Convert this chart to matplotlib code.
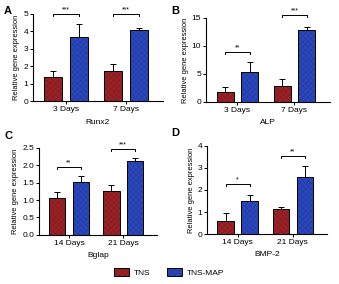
import numpy as np
import matplotlib.pyplot as plt
from matplotlib.patches import Patch
from matplotlib.legend_handler import HandlerTuple

plt.rcParams['font.family'] = ['Liberation Sans', 'DejaVu Sans']
plt.rcParams['hatch.linewidth'] = 0.35

# data
groups_ad = ['3 Days', '7 Days']
groups_cd = ['14 Days', '21 Days']

runx2_tns = [1.37, 1.72]
runx2_tns_err = [0.35, 0.43]
runx2_map = [3.68, 4.05]
runx2_map_err = [0.75, 0.15]

alp_tns = [1.7, 2.8]
alp_tns_err = [1.0, 1.3]
alp_map = [5.3, 12.8]
alp_map_err = [1.9, 0.6]

bglap_tns = [1.07, 1.27]
bglap_tns_err = [0.15, 0.16]
bglap_map = [1.53, 2.12]
bglap_map_err = [0.17, 0.10]

bmp2_tns = [0.6, 1.12]
bmp2_tns_err = [0.35, 0.1]
bmp2_map = [1.48, 2.6]
bmp2_map_err = [0.28, 0.5]

runx2_sig = [('***', 5.0), ('***', 5.0)]
alp_sig = [('**', 9.0), ('***', 15.5)]
bglap_sig = [('**', 1.95), ('***', 2.47)]
bmp2_sig = [('*', 2.26), ('**', 3.55)]

red = '#9a2226'
blue = '#2a48ba'
red_h = '#7c191d'
blue_h = '#1f379c'


def panel(ax, groups, tns, tns_err, tmap, tmap_err, sig, ymax, yticks, ytl, gene):
    x = np.arange(len(groups))
    off = 0.217
    w = 0.3
    # hatch texture drawn in a darker shade, black outline on top
    ax.bar(x - off, tns, w, color=red, edgecolor=red_h, linewidth=0,
           hatch='xxxxxx', zorder=2)
    ax.bar(x + off, tmap, w, color=blue, edgecolor=blue_h, linewidth=0,
           hatch='xxxxxx', zorder=2)
    ax.bar(x - off, tns, w, fill=False, edgecolor='black', linewidth=0.7, zorder=3)
    ax.bar(x + off, tmap, w, fill=False, edgecolor='black', linewidth=0.7, zorder=3)
    ax.errorbar(x - off, tns, yerr=[np.zeros(len(tns)), tns_err], fmt='none',
                ecolor='black', elinewidth=0.7, capsize=2.5, capthick=0.7, zorder=1)
    ax.errorbar(x + off, tmap, yerr=[np.zeros(len(tmap)), tmap_err], fmt='none',
                ecolor='black', elinewidth=0.7, capsize=2.5, capthick=0.7, zorder=1)
    tick = ymax * 0.025
    for xi, (stars, h) in zip(x, sig):
        ax.plot([xi - off, xi - off, xi + off, xi + off], [h - tick, h, h, h - tick],
                color='black', lw=0.7, clip_on=False)
        ax.text(xi, h + ymax * 0.005, stars, ha='center', va='bottom', fontsize=5,
                clip_on=False)
    ax.set_xlim(-0.55, 1.62)
    ax.set_ylim(0, ymax)
    ax.set_yticks(yticks)
    ax.set_yticklabels(ytl)
    ax.set_xticks(x)
    ax.set_xticklabels(groups)
    ax.tick_params(labelsize=6, width=0.7, length=2.5, pad=1)
    ax.set_ylabel('Relative gene expression', fontsize=5.4, labelpad=2)
    ax.set_xlabel(gene, fontsize=6, labelpad=4)
    for s in ['top', 'right']:
        ax.spines[s].set_visible(False)
    for s in ['left', 'bottom']:
        ax.spines[s].set_linewidth(0.8)


fig = plt.figure(figsize=(3.39, 2.84), dpi=100)
axA = fig.add_axes([0.097, 0.644, 0.384, 0.307])
axB = fig.add_axes([0.608, 0.641, 0.365, 0.296])
axC = fig.add_axes([0.115, 0.173, 0.348, 0.306])
axD = fig.add_axes([0.611, 0.176, 0.354, 0.310])

panel(axA, groups_ad, runx2_tns, runx2_tns_err, runx2_map, runx2_map_err, runx2_sig,
      5, [0, 1, 2, 3, 4, 5], ['0', '1', '2', '3', '4', '5'], 'Runx2')
panel(axB, groups_ad, alp_tns, alp_tns_err, alp_map, alp_map_err, alp_sig,
      15, [0, 5, 10, 15], ['0', '5', '10', '15'], 'ALP')
panel(axC, groups_cd, bglap_tns, bglap_tns_err, bglap_map, bglap_map_err, bglap_sig,
      2.5, [0, 0.5, 1.0, 1.5, 2.0, 2.5], ['0.0', '0.5', '1.0', '1.5', '2.0', '2.5'],
      'Bglap')
panel(axD, groups_cd, bmp2_tns, bmp2_tns_err, bmp2_map, bmp2_map_err, bmp2_sig,
      4, [0, 1, 2, 3, 4], ['0', '1', '2', '3', '4'], 'BMP-2')

for letter, (lx, ly) in zip('ABCD', [(0.012, 0.978), (0.505, 0.978),
                                      (0.012, 0.54), (0.505, 0.55)]):
    fig.text(lx, ly, letter, fontsize=8, fontweight='bold', ha='left', va='top')

h_tns = (Patch(facecolor=red, edgecolor=red_h, hatch='xxxxxx', linewidth=0),
         Patch(fill=False, edgecolor='black', linewidth=0.7))
h_map = (Patch(facecolor=blue, edgecolor=blue_h, hatch='xxxxxx', linewidth=0),
         Patch(fill=False, edgecolor='black', linewidth=0.7))
fig.legend([h_tns, h_map], ['TNS', 'TNS-MAP'], loc='center', bbox_to_anchor=(0.5, 0.04),
           ncol=2, frameon=False, fontsize=6, handlelength=1.8, handleheight=1.1,
           columnspacing=2.0, handletextpad=0.6,
           handler_map={tuple: HandlerTuple(ndivide=1, pad=0)})

fig.savefig('out.png', dpi=100)
